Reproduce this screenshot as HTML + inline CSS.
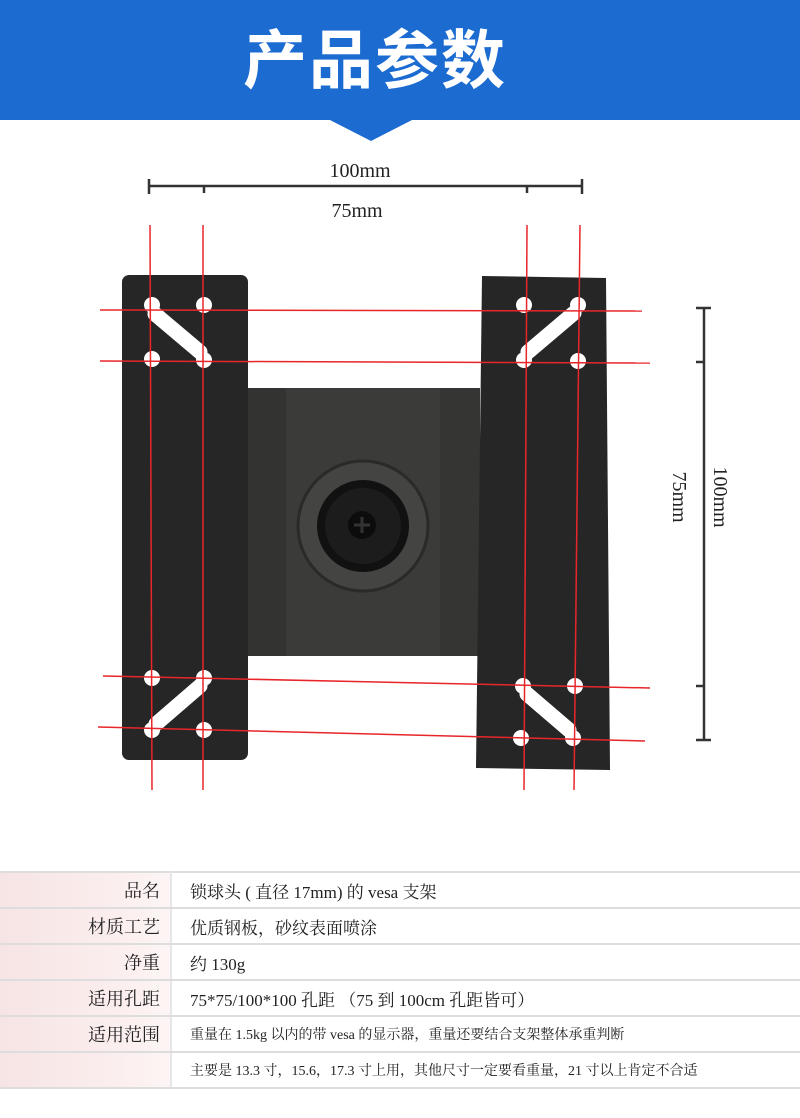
<!DOCTYPE html>
<html><head><meta charset="utf-8"><style>
body{margin:0;width:800px;height:1118px;background:#fff;overflow:hidden;position:relative;font-family:"Liberation Serif","Noto Serif CJK SC",serif}
.hdr{position:absolute;left:0;top:0;width:800px;height:120px;background:#1b6bd1}
.tri{position:absolute;left:328px;top:119px;width:0;height:0;border-left:43px solid transparent;border-right:43px solid transparent;border-top:22px solid #1b6bd1}
.title{position:absolute;left:0;top:10px;width:750px;text-align:center;color:#fff;font:bold 64px "Noto Sans CJK SC",sans-serif;letter-spacing:2px}
table{position:absolute;left:0;top:871px;width:800px;border-collapse:collapse;font-size:17px;color:#222}
td{border-top:2px solid #ddd;border-bottom:2px solid #ddd;height:34px;padding:0}
td.l{width:160px;text-align:right;padding-right:10px;background:linear-gradient(90deg,#f7e4e4,#fbeeee 70%,#fdf5f5);border-right:2px solid #e6e6e6;font-size:18px}
td.r{padding-left:18px}
.s{font-size:14px}
</style></head><body>
<div class="hdr"></div><div class="tri"></div>
<div class="title">产品参数</div>
<svg width="800" height="870" style="position:absolute;left:0;top:0">
<g stroke="#333" stroke-width="2.5">
<line x1="149" y1="186" x2="582" y2="186"/>
<line x1="149" y1="179" x2="149" y2="194"/><line x1="582" y1="179" x2="582" y2="194"/>
<line x1="204" y1="186" x2="204" y2="193"/><line x1="527" y1="186" x2="527" y2="193"/>
<line x1="704" y1="308" x2="704" y2="740"/>
<line x1="696" y1="308" x2="711" y2="308"/><line x1="696" y1="740" x2="711" y2="740"/>
<line x1="696" y1="362" x2="704" y2="362"/><line x1="696" y1="686" x2="704" y2="686"/>
</g>
<text x="360" y="177" font-size="20" text-anchor="middle" fill="#222">100mm</text>
<text x="357" y="217" font-size="20" text-anchor="middle" fill="#222">75mm</text>
<text transform="translate(714,497) rotate(90)" font-size="20" text-anchor="middle" fill="#222">100mm</text>
<text transform="translate(673,497) rotate(90)" font-size="20" text-anchor="middle" fill="#222">75mm</text>
<rect x="246" y="388" width="234" height="268" fill="#3b3b39"/>
<rect x="246" y="388" width="40" height="268" fill="#333331"/>
<rect x="440" y="388" width="40" height="268" fill="#353533"/>
<rect x="122" y="275" width="126" height="485" rx="7" fill="#262626"/>
<polygon points="482,276 606,278 610,770 476,768" fill="#262626"/>
<g fill="#fff">
<circle cx="152" cy="305" r="8"/><circle cx="204" cy="305" r="8"/><circle cx="152" cy="359" r="8"/><circle cx="204" cy="360" r="8"/>
<circle cx="152" cy="678" r="8"/><circle cx="204" cy="678" r="8"/><circle cx="152" cy="730" r="8"/><circle cx="204" cy="730" r="8"/>
<circle cx="524" cy="305" r="8"/><circle cx="578" cy="305" r="8"/><circle cx="524" cy="360" r="8"/><circle cx="578" cy="361" r="8"/>
<circle cx="523" cy="686" r="8"/><circle cx="575" cy="686" r="8"/><circle cx="521" cy="738" r="8"/><circle cx="573" cy="738" r="8"/>
</g>
<g stroke="#fff" stroke-width="15" stroke-linecap="round">
<line x1="155" y1="314" x2="200" y2="352"/>
<line x1="200" y1="686" x2="156" y2="724"/>
<line x1="574" y1="313" x2="528" y2="352"/>
<line x1="527" y1="694" x2="569" y2="730"/>
</g>
<circle cx="363" cy="526" r="65" fill="#444442" stroke="#2a2a2a" stroke-width="3"/>
<circle cx="363" cy="526" r="46" fill="#111"/>
<circle cx="363" cy="526" r="38" fill="#1c1c1c"/>
<circle cx="362" cy="525" r="14" fill="#0c0c0c"/>
<path d="M354 525h16M362 517v16" stroke="#333" stroke-width="3"/>
<g stroke="#e8262a" stroke-width="1.5">
<line x1="150" y1="225" x2="152" y2="790"/><line x1="203" y1="225" x2="203" y2="790"/>
<line x1="527" y1="225" x2="524" y2="790"/><line x1="580" y1="225" x2="574" y2="790"/>
<line x1="100" y1="310" x2="642" y2="311"/><line x1="100" y1="361" x2="650" y2="363"/>
<line x1="103" y1="676" x2="650" y2="688"/><line x1="98" y1="727" x2="645" y2="741"/>
</g>
</svg>
<table>
<tr><td class="l">品名</td><td class="r">锁球头 ( 直径 17mm) 的 vesa 支架</td></tr>
<tr><td class="l">材质工艺</td><td class="r">优质钢板，砂纹表面喷涂</td></tr>
<tr><td class="l">净重</td><td class="r">约 130g</td></tr>
<tr><td class="l">适用孔距</td><td class="r">75*75/100*100 孔距 （75 到 100cm 孔距皆可）</td></tr>
<tr><td class="l">适用范围</td><td class="r s">重量在 1.5kg 以内的带 vesa 的显示器，重量还要结合支架整体承重判断</td></tr>
<tr><td class="l"></td><td class="r s">主要是 13.3 寸，15.6，17.3 寸上用，其他尺寸一定要看重量，21 寸以上肯定不合适</td></tr>
</table>
</body></html>
